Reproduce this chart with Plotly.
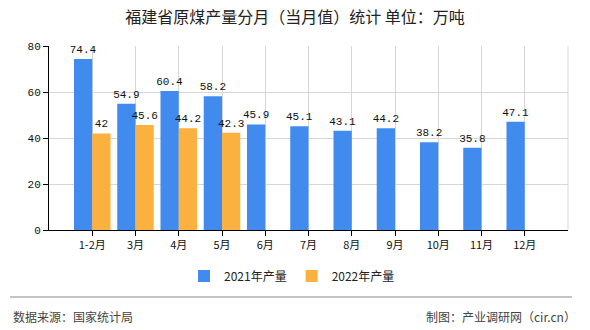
import plotly.graph_objects as go

categories = ["1-2月", "3月", "4月", "5月", "6月", "7月", "8月", "9月", "10月", "11月", "12月"]
values_2021 = [74.4, 54.9, 60.4, 58.2, 45.9, 45.1, 43.1, 44.2, 38.2, 35.8, 47.1]
values_2022 = [42, 45.6, 44.2, 42.3, None, None, None, None, None, None, None]
y_ticks = [0, 20, 40, 60, 80]

title_text = "福建省原煤产量分月（当月值）统计 单位：万吨"
source_text = "数据来源：国家统计局"
credit_text = "制图：产业调研网（cir.cn）"

BLUE = "#418bee"
ORANGE = "#fbb13f"
CJK = "Noto Sans CJK SC"
MONO = "Liberation Mono"

def fmt(v):
    if v is None:
        return ""
    return ("%g" % v)

fig = go.Figure()
fig.add_trace(go.Bar(
    x=categories, y=values_2021, name="2021年产量",
    marker=dict(color=BLUE, line=dict(width=0)),
    text=[fmt(v) for v in values_2021], textposition="outside",
    textfont=dict(family=MONO, size=11, color="#111"),
    cliponaxis=False,
))
fig.add_trace(go.Bar(
    x=categories, y=values_2022, name="2022年产量",
    marker=dict(color=ORANGE, line=dict(width=0)),
    text=[fmt(v) for v in values_2022], textposition="outside",
    textfont=dict(family=MONO, size=11, color="#111"),
    cliponaxis=False,
))

W, H = 590, 330
L, R, T, B = 49, 22, 46, 100
ph = H - T - B

def py(px):
    return (H - B - px) / ph

fig.update_layout(
    width=W, height=H,
    margin=dict(l=L, r=R, t=T, b=B),
    paper_bgcolor="white", plot_bgcolor="white",
    barmode="group", bargap=0.155, bargroupgap=0,
    font=dict(family=CJK, size=11, color="#222"),
    title=dict(text=title_text, x=295 / W, xref="container", xanchor="center",
               y=1 - 17 / H, yref="container", yanchor="middle",
               font=dict(family=CJK, size=16, color="#222")),
    legend=dict(orientation="h", x=(292 - L) / (W - L - R), xanchor="center",
                y=py(276), yanchor="middle",
                font=dict(family=CJK, size=12, color="#222"),
                itemsizing="constant", traceorder="normal", itemwidth=30),
    showlegend=True,
    uniformtext=dict(minsize=8, mode="show"),
)
fig.update_xaxes(
    type="category", range=[-1, 11],
    showline=True, linecolor="#000", linewidth=1,
    ticks="outside", ticklen=5, tickcolor="#000",
    showgrid=True, gridcolor="#d6d6d6", gridwidth=1,
    tickfont=dict(family=CJK, size=11, color="#111"),
    zeroline=False, fixedrange=True,
)
fig.update_yaxes(
    range=[0, 80], tickvals=y_ticks,
    showline=True, linecolor="#000", linewidth=1,
    ticks="outside", ticklen=5, tickcolor="#000",
    showgrid=True, gridcolor="#d6d6d6", gridwidth=1,
    tickfont=dict(family=MONO, size=11, color="#111"),
    zeroline=False, fixedrange=True,
)
# right border gridline
fig.add_shape(type="line", xref="paper", yref="paper", x0=1, x1=1, y0=0, y1=1,
              line=dict(color="#d6d6d6", width=1))
# footer separator
fig.add_shape(type="line", xref="paper", yref="paper",
              x0=(10 - L) / (W - L - R), x1=(572 - L) / (W - L - R),
              y0=py(297), y1=py(297), line=dict(color="#888", width=1))
fig.add_annotation(text=source_text, xref="paper", yref="paper",
                   x=(11 - L) / (W - L - R), xanchor="left", y=py(316), yanchor="middle",
                   showarrow=False, font=dict(family=CJK, size=12, color="#444"))
fig.add_annotation(text=credit_text, xref="paper", yref="paper",
                   x=(578 - L) / (W - L - R), xanchor="right", y=py(316), yanchor="middle",
                   showarrow=False, font=dict(family=CJK, size=12, color="#444"))

fig.write_html("out.html")
